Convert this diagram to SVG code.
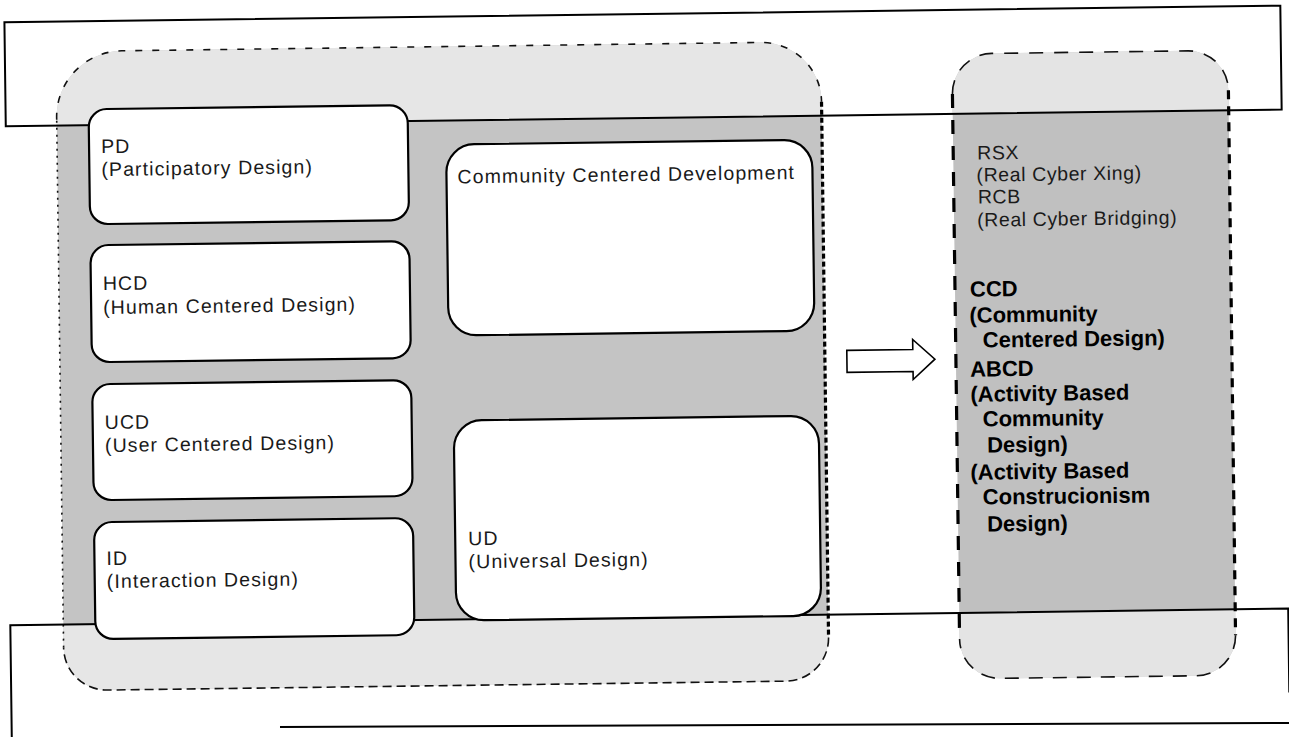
<svg xmlns="http://www.w3.org/2000/svg" width="1289" height="737" viewBox="0 0 1289 737">
<style>
.t{font-family:"Liberation Sans",Arial,sans-serif;font-size:19.5px;fill:#1a1a1a;letter-spacing:1.1px;}
.r{font-family:"Liberation Sans",Arial,sans-serif;font-size:19.5px;fill:#1a1a1a;letter-spacing:0.6px;}
.b{font-family:"Liberation Sans",Arial,sans-serif;font-size:22px;font-weight:bold;fill:#000;}
.box{fill:#fff;stroke:#000;stroke-width:2.2;}
.frame{fill:none;stroke:#000;stroke-width:2;}
.thin{fill:none;stroke:#111;stroke-width:1.6;}
.heavy{fill:none;stroke:#000;stroke-width:3.2;}
</style>
<defs>
<clipPath id="zones"><rect x="-50" y="-80" width="1400" height="198"/><rect x="-50" y="617" width="1400" height="250"/></clipPath>
<path id="lp" d="M126,44 L765,44 A60,60 0 0 1 825,104 L825,640 A43,43 0 0 1 782,683 L103,683 A43,43 0 0 1 60,640 L60,110 A66,66 0 0 1 126,44 Z"/>
<path id="rp" d="M996,58 L1192,58 A40,40 0 0 1 1232,98 L1232,643 A40,40 0 0 1 1192,683 L996,683 A40,40 0 0 1 956,643 L956,98 A40,40 0 0 1 996,58 Z"/>
</defs>
<rect width="1289" height="737" fill="#fff"/>
<g transform="rotate(-0.75 644 368)">
<g id="panel-left">
<use href="#lp" fill="#c4c4c4"/>
<use href="#lp" fill="#e6e6e6" clip-path="url(#zones)"/>
<path class="thin" stroke-dasharray="7 10" d="M60,112 A66,66 0 0 1 126,44 L765,44 A60,60 0 0 1 825,104"/>
<path class="heavy" stroke-width="2.6" stroke-dasharray="5 3" d="M825,104 L825,640"/>
<path class="thin" stroke-dasharray="9 5" d="M825,640 A43,43 0 0 1 782,683 L103,683 A43,43 0 0 1 60,640"/>
<path class="thin" stroke-width="2" stroke-dasharray="2 5" d="M60,640 L60,112"/>
</g>
<g id="panel-right">
<use href="#rp" fill="#c0c0c0"/>
<use href="#rp" fill="#e4e4e4" clip-path="url(#zones)"/>
<path class="thin" stroke-width="2" stroke-dasharray="14 11" d="M956,98 A40,40 0 0 1 996,58 L1192,58 A40,40 0 0 1 1232,98"/>
<path class="heavy" stroke-dasharray="14 12" d="M956,98 L956,643"/>
<path class="heavy" stroke-dasharray="9 7" d="M1232,98 L1232,643"/>
<path class="thin" stroke-width="2.4" stroke-dasharray="14 10" d="M1232,643 A40,40 0 0 1 1192,683 L996,683 A40,40 0 0 1 956,643"/>
<text class="r" x="980" y="164">RSX</text>
<text class="r" x="979" y="186">(Real Cyber Xing)</text>
<text class="r" x="980" y="208">RCB</text>
<text class="r" x="979" y="231">(Real Cyber Bridging)</text>
<text class="b" x="971" y="301">CCD</text>
<text class="b" x="970" y="327">(Community</text>
<text class="b" x="983" y="352">Centered Design)</text>
<text class="b" x="970" y="381">ABCD</text>
<text class="b" x="970" y="406">(Activity Based</text>
<text class="b" x="982" y="431">Community</text>
<text class="b" x="986" y="457">Design)</text>
<text class="b" x="969" y="484">(Activity Based</text>
<text class="b" x="981" y="509">Construcionism</text>
<text class="b" x="985" y="536">Design)</text>
</g>
<g id="page-frame">
<rect class="frame" x="9" y="14" width="1276" height="104"/>
<path class="frame" d="M7,760 L7,617 L1285,617 L1285,701"/>
</g>
<g id="pd"><rect class="box" x="92" y="102" width="319" height="115" rx="18"/>
<text class="t" x="104" y="146">PD</text><text class="t" x="104" y="169">(Participatory Design)</text></g>
<g id="hcd"><rect class="box" x="92" y="238" width="319" height="117" rx="18"/>
<text class="t" x="104" y="283">HCD</text><text class="t" x="104" y="307">(Human Centered Design)</text></g>
<g id="ucd"><rect class="box" x="92" y="377" width="319" height="116" rx="18"/>
<text class="t" x="104" y="422">UCD</text><text class="t" x="104" y="445">(User Centered Design)</text></g>
<g id="id"><rect class="box" x="92" y="515" width="319" height="117" rx="18"/>
<text class="t" x="104" y="558">ID</text><text class="t" x="104" y="581">(Interaction Design)</text></g>
<g id="ccd"><rect class="box" x="449" y="142" width="366" height="191" rx="28"/>
<text class="t" x="460" y="181">Community Centered Development</text></g>
<g id="ud"><rect class="box" x="453" y="418" width="365" height="200" rx="28"/>
<text class="t" x="466" y="543">UD</text><text class="t" x="466" y="566">(Universal Design)</text></g>
<g id="connectors">
<polygon points="847,353 913,353 913,343 935,363 913,383 913,375 847,375" fill="#fff" stroke="#000" stroke-width="1.6" stroke-linejoin="miter"/>
</g>
</g>
<g id="page-frame-bottom"><line x1="280" y1="727" x2="1289" y2="723" stroke="#000" stroke-width="2"/></g>
</svg>
